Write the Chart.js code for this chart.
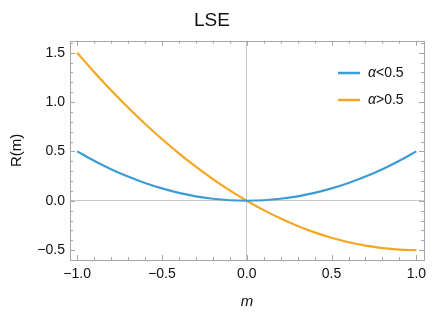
<!DOCTYPE html>
<html>
<head>
<meta charset="utf-8">
<script src="https://cdn.jsdelivr.net/npm/chart.js@4/dist/chart.umd.min.js"></script>
<style>
  html, body { margin: 0; padding: 0; background: #fff; }
  #wrap { width: 446px; height: 315px; }
</style>
</head>
<body>
<div id="wrap"><canvas id="lse-chart"></canvas></div>
<script>
// values
const m_values = [-1.0, -0.9, -0.8, -0.7, -0.6, -0.5, -0.4, -0.3, -0.2, -0.1, 0.0,
                  0.1, 0.2, 0.3, 0.4, 0.5, 0.6, 0.7, 0.8, 0.9, 1.0];
const r_low = [0.5, 0.405, 0.32, 0.245, 0.18, 0.125, 0.08, 0.045, 0.02, 0.005, 0,
               0.005, 0.02, 0.045, 0.08, 0.125, 0.18, 0.245, 0.32, 0.405, 0.5];
const r_high = [1.5, 1.305, 1.12, 0.945, 0.78, 0.625, 0.48, 0.345, 0.22, 0.105, 0,
                -0.095, -0.18, -0.255, -0.32, -0.375, -0.42, -0.455, -0.48, -0.495, -0.5];
const series_names = ['α<0.5', 'α>0.5'];
const x_ticks = [-1.0, -0.5, 0.0, 0.5, 1.0];
const y_ticks = [-0.5, 0.0, 0.5, 1.0, 1.5];

const colors = ['#3d9bd6', '#f5a623'];
const font_name = '"Liberation Sans", Arial, sans-serif';

function toPoints(ys) {
    var pts = [];
    for (var i = 0; i < m_values.length; i++) {
        pts.push({x: m_values[i], y: ys[i]});
    }
    return pts;
}

function fmt(v) {
    var s = Math.abs(v).toFixed(1);
    return v < 0 ? '\u2212' + s : s;
}

// frame with inward ticks on all four sides, like the original
const framePlugin = {
    id: 'frame',
    afterDraw(chart) {
        const ctx = chart.ctx;
        const a = chart.chartArea;
        const xs = chart.scales.x, ys = chart.scales.y;
        ctx.save();
        ctx.strokeStyle = '#a6a6a6';
        ctx.lineWidth = 1;
        ctx.strokeRect(Math.round(a.left) + 0.5, Math.round(a.top) + 0.5,
                       Math.round(a.right - a.left), Math.round(a.bottom - a.top));
        ctx.beginPath();
        for (var k = -10; k <= 10; k++) {
            var v = k / 10;
            var len = (k % 5 === 0) ? 5 : 3;
            var px = Math.round(xs.getPixelForValue(v)) + 0.5;
            ctx.moveTo(px, a.bottom); ctx.lineTo(px, a.bottom - len);
            ctx.moveTo(px, a.top); ctx.lineTo(px, a.top + len);
        }
        for (var j = -5; j <= 16; j++) {
            var w = j / 10;
            var l2 = (j % 5 === 0) ? 5 : 3;
            var py = Math.round(ys.getPixelForValue(w)) + 0.5;
            ctx.moveTo(a.left, py); ctx.lineTo(a.left + l2, py);
            ctx.moveTo(a.right, py); ctx.lineTo(a.right - l2, py);
        }
        ctx.stroke();

        // legend inside the plot, top right
        ctx.textBaseline = 'middle';
        chart.data.datasets.forEach(function (ds, i) {
            var y = 73 + i * 27;
            ctx.strokeStyle = ds.borderColor;
            ctx.lineWidth = 2.5;
            ctx.beginPath();
            ctx.moveTo(338, y); ctx.lineTo(360, y);
            ctx.stroke();
            ctx.fillStyle = '#111';
            ctx.font = 'italic 14px ' + font_name;
            ctx.fillText(ds.label.charAt(0), 368, y);
            var wa = ctx.measureText(ds.label.charAt(0)).width;
            ctx.font = '14px ' + font_name;
            ctx.fillText(ds.label.slice(1), 368 + wa, y);
        });
        ctx.restore();
    }
};

const data = {
    datasets: [
        {label: series_names[0], data: toPoints(r_low), borderColor: colors[0]},
        {label: series_names[1], data: toPoints(r_high), borderColor: colors[1]}
    ]
};

const config = {
    type: 'line',
    data: data,
    options: {
        responsive: true,
        maintainAspectRatio: false,
        animation: false,
        layout: {padding: {top: 0, right: 22, bottom: 0, left: 0}},
        elements: {
            point: {radius: 0},
            line: {borderWidth: 2.2, cubicInterpolationMode: 'monotone', fill: false}
        },
        plugins: {
            legend: {display: false},
            tooltip: {enabled: false},
            title: {
                display: true,
                text: 'LSE',
                color: '#111',
                font: {family: font_name, size: 19, weight: 'normal'},
                padding: {top: 9, bottom: 9}
            }
        },
        scales: {
            x: {
                type: 'linear',
                min: -1.042,
                max: 1.045,
                afterBuildTicks: function (s) { s.ticks = x_ticks.map(v => ({value: v})); },
                afterFit: function (s) { s.height = 55; },
                border: {display: false},
                grid: {
                    drawTicks: false,
                    color: ctx => (ctx.tick && ctx.tick.value === 0) ? '#c8c8c8' : 'rgba(0,0,0,0)'
                },
                ticks: {
                    color: '#111',
                    padding: 6,
                    maxRotation: 0,
                    font: {family: font_name, size: 14},
                    callback: v => fmt(v)
                },
                title: {
                    display: true,
                    text: 'm',
                    color: '#111',
                    padding: {top: 6},
                    font: {family: font_name, size: 15, style: 'italic'}
                }
            },
            y: {
                type: 'linear',
                min: -0.6,
                max: 1.62,
                afterBuildTicks: function (s) { s.ticks = y_ticks.map(v => ({value: v})); },
                afterFit: function (s) { s.width = 70; },
                border: {display: false},
                grid: {
                    drawTicks: false,
                    color: ctx => (ctx.tick && ctx.tick.value === 0) ? '#c8c8c8' : 'rgba(0,0,0,0)'
                },
                ticks: {
                    color: '#111',
                    padding: 5,
                    font: {family: font_name, size: 14},
                    callback: v => fmt(v)
                },
                title: {
                    display: true,
                    text: 'R(m)',
                    color: '#111',
                    padding: {top: 8, bottom: 2},
                    font: {family: font_name, size: 15}
                }
            }
        }
    },
    plugins: [framePlugin]
};

const lse_chart = new Chart(document.getElementById('lse-chart'), config);
</script>
</body>
</html>
